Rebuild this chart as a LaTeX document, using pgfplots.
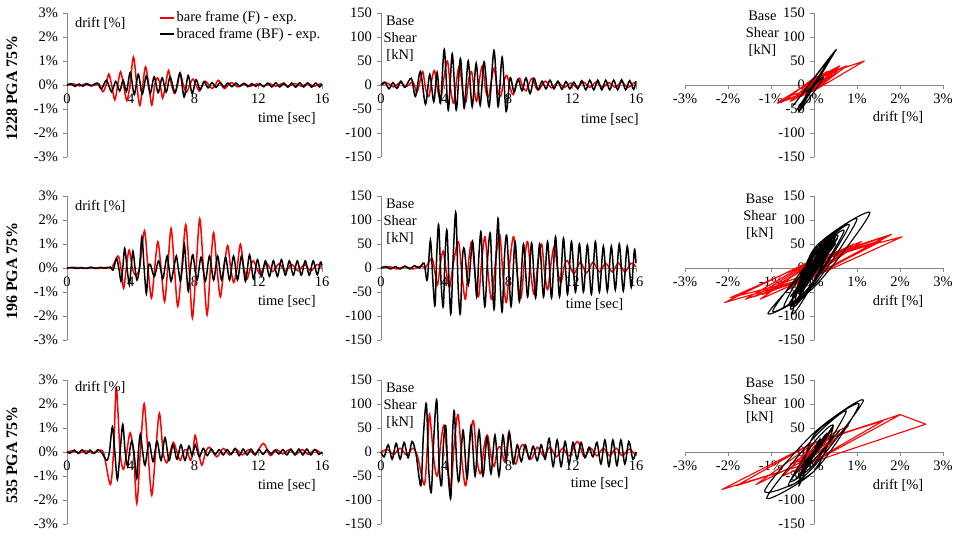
\documentclass[border=0pt]{standalone}
\usepackage{pgfplots}
\pgfplotsset{compat=1.18}
\usepackage{pgfplotstable}
\usepackage{fontspec}
\setmainfont{Liberation Serif}
\definecolor{axgray}{RGB}{134,134,134}
\definecolor{bfred}{RGB}{255,0,0}

% columns: time [s], drift [%], base shear [kN]
\pgfplotstableread{
t d v
0.0 0.00 0
0.4 0.05 4
0.8 -0.04 -4
1.2 0.06 5
1.6 -0.03 -3
2.0 0.05 6
2.25 -0.28 -15
2.45 0 8
2.62 0.46 28
2.8 0 -8
3.0 -0.62 -24
3.18 0 10
3.36 0.55 30
3.55 0 -10
3.75 -0.65 -30
3.95 0 15
4.17 1.17 50
4.38 0 -12
4.57 -0.85 -38
4.75 0 12
4.93 0.76 40
5.13 0 -12
5.32 -0.84 -36
5.5 0 10
5.68 0.3 28
5.85 0 -10
6.0 -0.55 -34
6.18 0 12
6.37 0.6 40
6.56 0 -10
6.75 -0.35 -25
6.93 0 10
7.1 0.5 35
7.3 0 -8
7.5 -0.3 -24
7.7 0 6
7.9 0.25 20
8.1 0 -6
8.3 -0.25 -20
8.5 0 5
8.7 0.15 14
8.9 0 -4
9.1 -0.15 -12
9.3 0 4
9.5 0.2 14
9.7 0 -4
9.9 -0.15 -10
10.3 0.1 8
10.7 -0.08 -6
11.1 0.06 5
11.5 -0.06 -5
11.9 0.05 4
12.3 -0.05 -5
12.7 0.06 6
13.1 -0.05 -5
13.5 0.06 6
13.9 -0.05 -5
14.3 0.06 5
14.7 -0.05 -5
15.1 0.06 6
15.5 -0.05 -5
15.9 0.05 5
16.0 0.0 0
}\recAF

\pgfplotstableread{
t d v
0.0 0.00 0
0.25 0.05 6
0.5 -0.06 -8
0.75 0.04 5
1.0 -0.05 -7
1.25 0.06 8
1.5 -0.04 -5
1.9 0.08 14
2.16 -0.17 -24
2.47 0.2 28
2.79 -0.28 -40
3.06 0.15 22
3.31 -0.25 -35
3.52 0.2 26
3.73 -0.27 -38
3.97 0.52 74
4.22 -0.4 -52
4.47 0.45 65
4.72 -0.38 -52
4.98 0.38 55
5.22 -0.35 -48
5.47 0.34 50
5.72 -0.32 -45
5.97 0.3 45
6.22 -0.3 -42
6.47 0.33 48
6.78 -0.32 -45
7.09 0.5 72
7.35 -0.5 -45
7.6 0.4 58
7.85 -0.35 -55
8.1 0.22 15
8.35 -0.2 -15
8.6 0.15 12
8.85 -0.12 -12
9.1 0.1 15
9.35 -0.1 -18
9.6 0.1 14
9.85 -0.08 -10
10.1 0.08 8
10.35 -0.07 -8
10.6 0.08 10
10.85 -0.06 -8
11.1 0.07 8
11.35 -0.07 -9
11.6 0.06 7
11.85 -0.06 -8
12.1 0.06 6
12.35 -0.07 -8
12.6 0.08 9
12.85 -0.08 -10
13.1 0.09 10
13.35 -0.08 -10
13.6 0.08 10
13.85 -0.09 -10
14.1 0.08 10
14.35 -0.09 -10
14.6 0.09 10
14.85 -0.08 -10
15.1 0.09 11
15.35 -0.09 -10
15.6 0.08 9
15.85 -0.08 -9
16.0 0.05 8
}\recAB

\pgfplotstableread{
t d v
0.0 0 0
0.5 0.03 3
1.0 -0.02 -2
1.5 0.03 3
2.0 -0.02 -2
2.5 0.03 4
2.8 0.0 2
3.2 0.5 20
3.38 0 -8
3.55 -0.85 -35
3.72 0 8
3.9 0.75 35
4.1 0 -8
4.3 -0.3 -40
4.55 0 12
4.86 1.55 55
5.08 0 -15
5.3 -1.25 -65
5.5 0 15
5.7 1.1 55
5.9 0 -15
6.12 -1.4 -60
6.32 0 15
6.53 1.65 65
6.74 0 -18
6.95 -1.6 -65
7.2 0 18
7.45 1.8 70
7.66 0 -18
7.87 -2.08 -72
8.1 0 18
8.33 2.05 65
8.56 0 -18
8.79 -1.95 -62
9.0 0 15
9.2 1.47 55
9.41 0 -15
9.62 -1.2 -55
9.85 0 12
10.08 0.93 50
10.27 0 -12
10.46 -0.6 -45
10.67 0 10
10.88 0.99 45
11.1 0 -8
11.3 -0.45 -30
11.5 0 5
11.7 0.3 15
12.1 -0.25 -12
12.5 0.2 12
12.9 -0.15 -10
13.3 0.18 12
13.7 -0.12 -8
14.1 0.15 10
14.5 -0.12 -8
14.9 0.15 10
15.3 -0.12 -8
15.7 0.15 10
16.0 0.0 2
}\recBF

\pgfplotstableread{
t d v
0.0 0 0
0.3 0.02 3
0.6 -0.02 -2
0.9 0.02 3
1.2 -0.02 -2
1.5 0.03 4
1.8 -0.02 -2
2.1 0.03 5
2.4 -0.01 0
2.7 0.04 10
2.9 -0.08 -25
3.1 0.4 58
3.25 0 -25
3.39 -0.55 -78
3.5 0 30
3.62 0.82 90
3.77 0 -30
3.91 -0.7 -80
4.02 0 28
4.14 0.7 78
4.27 0 -30
4.39 -0.5 -95
4.55 0 40
4.7 1.3 115
4.84 0 -40
4.98 -1.07 -95
5.1 0 15
5.23 0.15 40
5.48 -0.35 -35
5.75 0.3 55
6.0 -0.45 -60
6.14 0 25
6.28 0.5 75
6.4 0 -28
6.53 -0.55 -80
6.7 0 26
6.86 0.5 72
6.98 0 -30
7.11 -0.55 -85
7.23 0 35
7.36 1.0 102
7.48 0 -35
7.61 -0.96 -90
7.75 0 25
7.9 0.55 65
8.16 -0.5 -80
8.41 0.45 55
8.68 -0.55 -70
8.94 0.5 50
9.2 -0.5 -60
9.45 0.5 52
9.7 -0.5 -62
9.95 0.45 50
10.2 -0.5 -60
10.45 0.5 55
10.7 -0.5 -62
10.95 0.5 65
11.2 -0.55 -60
11.45 0.55 62
11.7 -0.45 -55
11.95 0.35 55
12.2 -0.35 -50
12.45 0.3 50
12.7 -0.35 -50
12.95 0.3 48
13.2 -0.35 -55
13.45 0.35 55
13.7 -0.3 -50
13.95 0.3 45
14.2 -0.3 -48
14.45 0.3 45
14.7 -0.3 -45
14.95 0.3 50
15.2 -0.3 -48
15.45 0.3 45
15.7 -0.28 -40
15.9 0.25 38
16.0 0.1 10
}\recBB

\pgfplotstableread{
t d v
0.0 0 0
0.4 0.05 5
0.8 -0.04 -5
1.2 0.06 8
1.6 -0.05 -6
2.0 0.06 8
2.3 -0.05 -10
2.72 -1.35 -68
2.92 0 18
3.03 2.0 78
3.12 2.6 58
3.33 0 -20
3.54 -0.72 -50
3.75 0 18
3.96 0.8 55
4.17 0 -20
4.38 -2.14 -78
4.6 0 20
4.84 2.01 78
5.08 0 -20
5.32 -1.8 -70
5.56 0 20
5.8 1.61 65
6.03 0 -18
6.26 -0.45 -45
6.47 0 12
6.68 0.4 35
6.9 0 -8
7.1 -0.35 -30
7.3 0 5
7.5 0.1 10
7.75 -0.35 -20
7.9 0 10
8.04 0.7 43
8.25 0 -8
8.46 -0.55 -25
8.7 0 5
8.94 0.2 15
9.4 -0.2 -15
9.8 0.15 10
10.2 -0.12 -8
10.6 0.12 10
11.0 -0.12 -10
11.4 0.1 8
11.8 -0.1 -8
12.33 0.36 22
12.75 -0.15 -10
13.15 0.1 8
13.55 -0.08 -8
13.95 0.1 8
14.35 -0.1 -8
14.75 0.1 8
15.15 -0.1 -8
15.55 0.1 6
15.95 -0.05 -5
16.0 0 0
}\recCF

\pgfplotstableread{
t d v
0.0 0 0
0.2 -0.05 -10
0.45 0.08 15
0.7 -0.06 -15
0.95 0.09 18
1.2 -0.07 -15
1.45 0.08 20
1.7 -0.06 -12
1.95 0.1 22
2.2 -0.05 -5
2.5 -0.35 -70
2.66 0 35
2.85 1.05 100
3.0 0 -40
3.16 -1.15 -82
3.33 0 40
3.5 1.15 108
3.65 0 -30
3.8 -0.6 -70
3.92 0 20
4.06 0.45 55
4.2 0 -40
4.38 -1.1 -96
4.48 0 30
4.6 0.75 85
4.75 0 -25
4.9 -0.55 -60
5.15 0.4 45
5.4 -0.4 -55
5.65 0.45 55
5.9 -0.35 -50
6.15 0.6 45
6.4 -0.35 -50
6.65 0.3 30
6.9 -0.3 -45
7.15 0.3 35
7.4 -0.35 -50
7.65 0.25 35
7.85 -0.15 -20
8.05 0.3 40
8.3 -0.2 -25
8.55 0.15 15
8.8 -0.15 -20
9.05 0.12 15
9.3 -0.1 -15
9.55 0.1 12
9.8 -0.12 -18
10.05 0.1 15
10.3 -0.1 -15
10.55 0.15 28
10.8 -0.15 -30
11.05 0.12 25
11.3 -0.12 -30
11.55 0.12 22
11.8 -0.12 -25
12.05 0.1 20
12.3 -0.1 -15
12.55 0.1 20
12.8 -0.08 -12
13.05 0.08 10
13.3 -0.08 -10
13.55 0.1 20
13.8 -0.12 -25
14.05 0.12 25
14.3 -0.12 -30
14.55 0.12 25
14.8 -0.12 -28
15.05 0.12 25
15.3 -0.12 -25
15.55 0.1 22
15.8 -0.1 -15
16.0 0 0
}\recCB

\pgfplotsset{
  panel/.style={
    scale only axis, height=144pt,
    axis lines=middle,
    axis line style={axgray, line width=0.8pt, -},
    tick style={axgray, line width=0.8pt},
    tick align=outside, major tick length=4pt,
    /pgf/number format/assume math mode=true,
    hide obscured x ticks=false, hide obscured y ticks=false,
    anchor=south west, clip=false,
  },
  th/.style={panel, width=255pt, xmin=0, xmax=16, xtick={0,4,8,12,16}},
  driftax/.style={th, ymin=-3, ymax=3, ytick={-3,-2,-1,0,1,2,3},
    yticklabel={\pgfmathprintnumber{\tick}\%}},
  shearax/.style={th, ymin=-150, ymax=150, ytick={-150,-100,...,150}},
  hystax/.style={panel, width=258pt, xmin=-3, xmax=3, xtick={-3,-2,-1,0,1,2,3},
    xticklabel={\pgfmathprintnumber{\tick}\%},
    ymin=-150, ymax=150, ytick={-150,-100,...,150}},
  redln/.style={bfred, line width=1.5pt, smooth},
  blkln/.style={black, line width=1.5pt, smooth},
  redhy/.style={bfred, line width=1.1pt, line join=round},
  blkhy/.style={black, line width=1.1pt, smooth},
}

\begin{document}
\fontsize{14.5}{17}\selectfont
\begin{tikzpicture}
\path[use as bounding box] (0pt,0pt) rectangle (957pt,-537pt);

% ---------- row 1 : 1228 ----------
\node[rotate=90, font=\fontsize{16}{18}\selectfont\bfseries] at (12pt,-88pt) {1228 PGA 75\%};
\begin{axis}[driftax, at={(67pt,-157pt)},
    legend style={at={(0.36,1.025)}, anchor=north west, draw=none, fill=none,
      inner sep=0pt, row sep=0pt},
    legend cell align=left,
    legend image code/.code={\draw[#1, line width=1.6pt] (0pt,0pt) -- (14pt,0pt);}]
  \addplot[redln] table[x=t,y=d] {\recAF};
  \addlegendentry{bare frame (F) - exp.}
  \addplot[blkln] table[x=t,y=d] {\recAB};
  \addlegendentry{braced frame (BF) - exp.}
  \node[anchor=west] at (rel axis cs:0.012,0.93) {drift [\%]};
  \node[anchor=east] at (rel axis cs:0.995,0.27) {time [sec]};
\end{axis}
\begin{axis}[shearax, at={(381pt,-157pt)}]
  \addplot[redln] table[x=t,y=v] {\recAF};
  \addplot[blkln] table[x=t,y=v] {\recAB};
  \node[anchor=north, align=center] at (rel axis cs:0.075,1.015) {Base\\Shear\\{[kN]}};
  \node[anchor=east] at (rel axis cs:1.03,0.26) {time [sec]};
\end{axis}
\begin{axis}[hystax, at={(685pt,-157pt)}]
  \addplot[redhy] table[x=d,y=v] {\recAF};
  \addplot[blkhy] table[x=d,y=v] {\recAB};
  \node[anchor=north, align=center] at (rel axis cs:0.3,1.05) {Base\\Shear\\{[kN]}};
  \node at (rel axis cs:0.826,0.278) {drift [\%]};
\end{axis}

% ---------- row 2 : 196 ----------
\node[rotate=90, font=\fontsize{16}{18}\selectfont\bfseries] at (12pt,-271pt) {196 PGA 75\%};
\begin{axis}[driftax, at={(67pt,-340pt)}]
  \addplot[redln] table[x=t,y=d] {\recBF};
  \addplot[blkln] table[x=t,y=d] {\recBB};
  \node[anchor=west] at (rel axis cs:0.012,0.93) {drift [\%]};
  \node[anchor=east] at (rel axis cs:0.995,0.27) {time [sec]};
\end{axis}
\begin{axis}[shearax, at={(381pt,-340pt)}]
  \addplot[redln] table[x=t,y=v] {\recBF};
  \addplot[blkln] table[x=t,y=v] {\recBB};
  \node[anchor=north, align=center] at (rel axis cs:0.075,1.015) {Base\\Shear\\{[kN]}};
  \node[anchor=east] at (rel axis cs:0.97,0.245) {time [sec]};
\end{axis}
\begin{axis}[hystax, at={(685pt,-340pt)}]
  \addplot[redhy] table[x=d,y=v] {\recBF};
  \addplot[blkhy] table[x=d,y=v] {\recBB};
  \node[anchor=north, align=center] at (rel axis cs:0.29,1.05) {Base\\Shear\\{[kN]}};
  \node at (rel axis cs:0.826,0.27) {drift [\%]};
\end{axis}

% ---------- row 3 : 535 ----------
\node[rotate=90, font=\fontsize{16}{18}\selectfont\bfseries] at (12pt,-455pt) {535 PGA 75\%};
\begin{axis}[driftax, at={(67pt,-524pt)}]
  \addplot[redln] table[x=t,y=d] {\recCF};
  \addplot[blkln] table[x=t,y=d] {\recCB};
  \node[anchor=west] at (rel axis cs:0.012,0.95) {drift [\%]};
  \node[anchor=east] at (rel axis cs:0.995,0.265) {time [sec]};
\end{axis}
\begin{axis}[shearax, at={(381pt,-524pt)}]
  \addplot[redln] table[x=t,y=v] {\recCF};
  \addplot[blkln] table[x=t,y=v] {\recCB};
  \node[anchor=north, align=center] at (rel axis cs:0.075,1.015) {Base\\Shear\\{[kN]}};
  \node[anchor=east] at (rel axis cs:0.99,0.285) {time [sec]};
\end{axis}
\begin{axis}[hystax, at={(685pt,-524pt)}]
  \addplot[redhy] table[x=d,y=v] {\recCF};
  \addplot[blkhy] table[x=d,y=v] {\recCB};
  \node[anchor=north, align=center] at (rel axis cs:0.29,1.05) {Base\\Shear\\{[kN]}};
  \node at (rel axis cs:0.826,0.27) {drift [\%]};
\end{axis}
\end{tikzpicture}
\end{document}
